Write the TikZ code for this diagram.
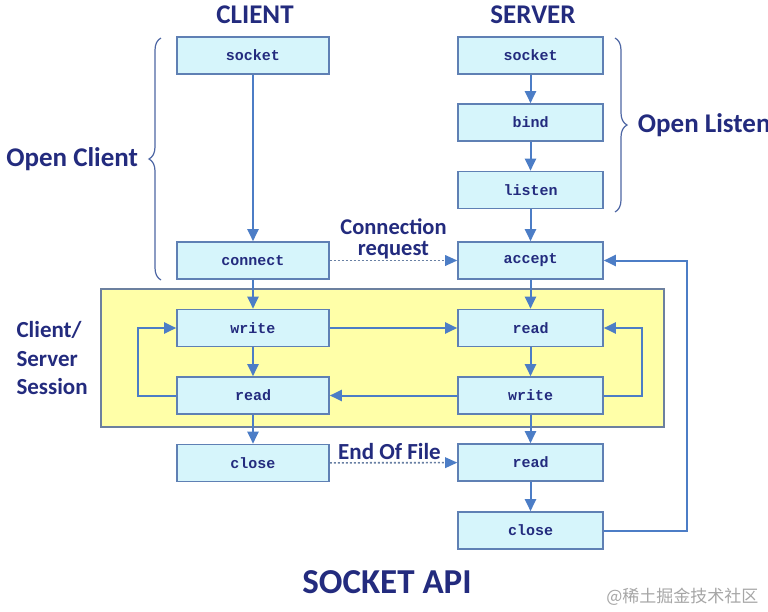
\documentclass[tikz,border=0pt]{standalone}
\usepackage{fontspec}
\setmainfont{Carlito}
\setmonofont{Liberation Mono}
\newfontfamily\cjk{Noto Sans CJK SC}
\usetikzlibrary{arrows.meta,decorations.pathreplacing}

\definecolor{navy}{HTML}{232B7E}
\definecolor{boxfill}{HTML}{D6F5FB}
\definecolor{boxline}{HTML}{5F80B4}
\definecolor{flow}{HTML}{4C7DC6}
\definecolor{session}{HTML}{FFFFA8}

\tikzset{
  call/.style={draw=boxline, line width=1.6pt, fill=boxfill, minimum height=37pt, inner sep=0pt,
    font=\ttfamily\bfseries\fontsize{15}{15}\selectfont, text=navy},
  ccall/.style={call, minimum width=152pt},
  scall/.style={call, minimum width=145pt},
  arr/.style={draw=flow, line width=2pt, -{Triangle[length=12pt,width=11pt]}},
  eof/.style={draw=boxline!70!gray, line width=1.6pt, dash pattern=on 2pt off 2pt, -{Triangle[length=12pt,width=11pt,color=flow,fill=flow,line width=0pt]}},
  tag/.style={text=navy, font=\bfseries\fontsize{23}{20}\selectfont},
  hbrace/.style={draw=boxline!70!navy, line width=1.2pt, decorate, decoration={brace, amplitude=12pt}}
}

\begin{document}
\begin{tikzpicture}[x=1pt,y=-1pt]
\useasboundingbox[fill=white] (0,0) rectangle (768,611);

\node[tag, font=\bfseries\fontsize{27}{27}\selectfont] (client) at (255,15) {CLIENT};
\node[tag, font=\bfseries\fontsize{27}{27}\selectfont] (server) at (533,15) {SERVER};

% session area
\node[draw=boxline!60!gray, line width=1.4pt, fill=session, minimum width=563pt, minimum height=138pt, inner sep=0pt] (sess) at (382.5,358) {};

\node[ccall] (csocket) at (253,55.5) {socket};
\node[ccall] (cconnect) at (253,260.5) {connect};
\node[ccall] (cwrite) at (253,328) {write};
\node[ccall] (cread) at (253,395.5) {read};
\node[ccall] (cclose) at (253,463) {close};

\node[scall] (ssocket) at (530.5,55.5) {socket};
\node[scall] (sbind) at (530.5,122.5) {bind};
\node[scall] (slisten) at (530.5,190) {listen};
\node[scall] (saccept) at (530.5,260.5) {accept};
\node[scall] (sread) at (530.5,328) {read};
\node[scall] (swrite) at (530.5,395.5) {write};
\node[scall] (sreadeof) at (530.5,462.5) {read};
\node[scall] (sclose) at (530.5,530.5) {close};

\draw[arr] (csocket) -- (cconnect);
\draw[arr] (cconnect) -- (cwrite);
\draw[arr] (cwrite) -- (cread);
\draw[arr] (cread) -- (cclose);
\draw[arr] (cread.west) -- ++(-38,0) |- (cwrite.west);

\draw[arr] (ssocket) -- (sbind);
\draw[arr] (sbind) -- (slisten);
\draw[arr] (slisten) -- (saccept);
\draw[arr] (saccept) -- (sread);
\draw[arr] (sread) -- (swrite);
\draw[arr] (swrite) -- (sreadeof);
\draw[arr] (sreadeof) -- (sclose);
\draw[arr] (swrite.east) -- ++(38,0) |- (sread.east);
\draw[arr] (sclose.east) -- ++(83,0) |- (saccept.east);

\draw[arr] (cwrite) -- (sread);
\draw[arr] (swrite) -- (cread);

\draw[eof] (cconnect) -- (saccept) node[midway, above=-3pt, tag, align=center, font=\bfseries\fontsize{22.5}{21.5}\selectfont] (connreq) {Connection\\request};
\draw[eof] (cclose) -- (sreadeof) node[midway, above=-1pt, tag, xshift=-4pt] (eoftxt) {End Of File};

\draw[hbrace] (161,280) -- (161,38) node[midway, left=19pt, tag, font=\bfseries\fontsize{27}{27}\selectfont] (openc) {Open Client};
\draw[hbrace] (615,38) -- (615,212) node[midway, right=19pt, tag, font=\bfseries\fontsize{27}{27}\selectfont] (openl) {Open Listen};

\node[tag, align=left, anchor=north west, font=\bfseries\fontsize{23}{28.5}\selectfont] (sesstxt) at (13,318) {Client/\\Server\\Session};

\node[tag, font=\bfseries\fontsize{35}{35}\selectfont] (title) at (387,582) {SOCKET API};
\node[text=gray!70, font=\cjk\fontsize{17}{17}\selectfont, anchor=east] (mark) at (762,597) {@稀土掘金技术社区};
\end{tikzpicture}
\end{document}
